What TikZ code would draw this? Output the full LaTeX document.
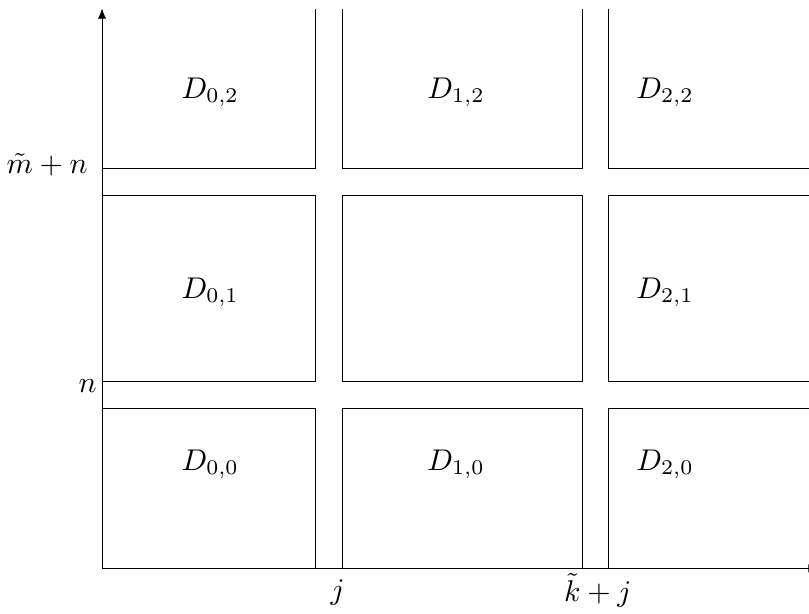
\documentclass[tikz,border=0pt]{standalone}
\usetikzlibrary{arrows.meta}
\begin{document}
\begin{tikzpicture}[every node/.style={scale=1.6}]
    \useasboundingbox (-1.914,-0.844) rectangle (13.26,10.66);
    \clip (-1.914,-0.844) rectangle (13.26,10.66);
    % axes
    \draw[-{Latex[length=5.4pt,width=4.4pt]}] (0,0) -- (0,10.5);
    \draw[-{Latex[length=5.4pt,width=4.4pt]}] (0,0) -- (13.44,0);
    % lower two rows of blocks
    \foreach \xa/\xb in {0/4, 4.5/9, 9.5/13.6}
    {
        \draw (\xa,0) rectangle (\xb,3);
        \draw (\xa,3.5) rectangle (\xb,7);
    }
    % top row, open at the top
    \draw (4,10.5) -- (4,7.5) -- (0,7.5);
    \draw (4.5,10.5) -- (4.5,7.5) -- (9,7.5) -- (9,10.5);
    \draw (9.5,10.5) -- (9.5,7.5) -- (13.6,7.5);
    % block labels
    \node[anchor=base] (d02) at (2.03,8.82) {$D_{0,2}$};
    \node[anchor=base] (d12) at (6.64,8.82) {$D_{1,2}$};
    \node[anchor=base] (d22) at (10.56,8.82) {$D_{2,2}$};
    \node[anchor=base] (d01) at (2.03,5.07) {$D_{0,1}$};
    \node[anchor=base] (d21) at (10.56,5.07) {$D_{2,1}$};
    \node[anchor=base] (d00) at (2.03,1.84) {$D_{0,0}$};
    \node[anchor=base] (d10) at (6.64,1.84) {$D_{1,0}$};
    \node[anchor=base] (d20) at (10.56,1.84) {$D_{2,0}$};
    % axis labels
    \node[anchor=base east,inner sep=0pt] (ymn) at (-0.26,7.4) {$\tilde{m}+n$};
    \node[anchor=base east,inner sep=0pt] (yn) at (-0.09,3.30) {$n$};
    \node[anchor=base] (xj) at (4.42,-0.59) {$j$};
    \node[anchor=base] (xkj) at (9.3,-0.62) {$\tilde{k}+j$};
\end{tikzpicture}
\end{document}
